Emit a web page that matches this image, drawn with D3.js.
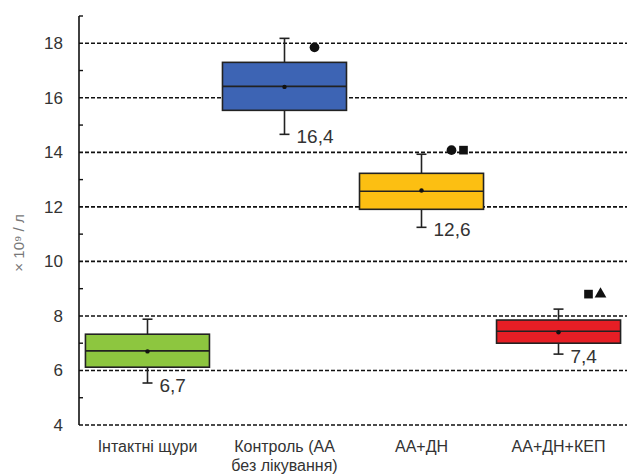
<!DOCTYPE html>
<html>
<head>
<meta charset="utf-8">
<script src="https://cdn.jsdelivr.net/npm/d3@7"></script>
<style>
  body { margin: 0; background: #fff; }
  svg { display: block; font-family: "Liberation Sans", Arial, sans-serif; }
</style>
</head>
<body>
<svg id="canvas" width="627" height="475"></svg>
<script>
"use strict";

// data
var categories = [["Інтактні щури"], ["Контроль (АА", "без лікування)"], ["АА+ДН"], ["АА+ДН+КЕП"]];
var medians = [6.72, 16.42, 12.57, 7.44];
var q1 = [6.12, 15.54, 11.91, 7.0];
var q3 = [7.33, 17.3, 13.23, 7.85];
var whiskerLow = [5.54, 14.66, 11.25, 6.6];
var whiskerHigh = [7.88, 18.18, 13.93, 8.25];
var means = [6.7, 16.4, 12.6, 7.4];
var meanLabels = ["6,7", "16,4", "12,6", "7,4"];
var boxColors = ["#8dc63f", "#3d64b4", "#fcbf12", "#e61e25"];
var markerSymbols = [[], ["circle"], ["circle", "square"], ["square", "triangle"]];
var markerValues = [null, 17.85, 14.08, 8.8];
var yTicks = [4, 6, 8, 10, 12, 14, 16, 18];
var yMinorTicks = [5, 7, 9, 11, 13, 15, 17, 19];

var svg = d3.select("#canvas");
var LEFT = 79, RIGHT = 627, TOP = 16, BOTTOM = 425;

var x = d3.scaleBand()
    .domain(d3.range(categories.length))
    .range([LEFT, RIGHT])
    .paddingInner(0.095)
    .paddingOuter(0.047);
var xc = d3.scalePoint()
    .domain(d3.range(categories.length))
    .range([LEFT, RIGHT])
    .padding(0.5);
var y = d3.scaleLinear().domain([4, 19]).range([BOTTOM, TOP]);

// grid lines
svg.append("g").selectAll("line")
    .data(yTicks)
    .enter().append("line")
    .attr("x1", LEFT).attr("x2", RIGHT)
    .attr("y1", function(d) { return y(d); })
    .attr("y2", function(d) { return y(d); })
    .attr("stroke", "#111")
    .attr("stroke-width", 1.6)
    .attr("stroke-dasharray", "4,2");

// y axis
var yAxis = svg.append("g")
    .attr("transform", "translate(" + LEFT + ",0)")
    .call(d3.axisLeft(y).tickValues(yTicks).tickSize(0).tickPadding(16));
yAxis.select(".domain").remove();
yAxis.selectAll("text")
    .attr("font-size", "17px")
    .attr("fill", "#333")
    .attr("font-family", "Liberation Sans, Arial, sans-serif");

svg.append("line")
    .attr("x1", LEFT).attr("x2", LEFT)
    .attr("y1", y(19)).attr("y2", y(4))
    .attr("stroke", "#111").attr("stroke-width", 1.6);
svg.append("g").selectAll("line")
    .data(yMinorTicks)
    .enter().append("line")
    .attr("x1", LEFT).attr("x2", LEFT + 4)
    .attr("y1", function(d) { return y(d); })
    .attr("y2", function(d) { return y(d); })
    .attr("stroke", "#111").attr("stroke-width", 1.4);

// y label
svg.append("text")
    .attr("transform", "translate(24," + 243 + ") rotate(-90)")
    .attr("text-anchor", "middle")
    .attr("font-size", "15px")
    .attr("fill", "#777")
    .text("× 10⁹ / л");

// boxes
var groups = svg.append("g").selectAll("g")
    .data(d3.range(categories.length))
    .enter().append("g");

// whiskers
groups.append("line")
    .attr("x1", function(i) { return xc(i); })
    .attr("x2", function(i) { return xc(i); })
    .attr("y1", function(i) { return y(whiskerLow[i]); })
    .attr("y2", function(i) { return y(whiskerHigh[i]); })
    .attr("stroke", "#222").attr("stroke-width", 1.6);
[whiskerLow, whiskerHigh].forEach(function(arr) {
    groups.append("line")
        .attr("x1", function(i) { return xc(i) - 5; })
        .attr("x2", function(i) { return xc(i) + 5; })
        .attr("y1", function(i) { return y(arr[i]); })
        .attr("y2", function(i) { return y(arr[i]); })
        .attr("stroke", "#222").attr("stroke-width", 1.6);
});

groups.append("rect")
    .attr("x", function(i) { return x(i); })
    .attr("width", x.bandwidth())
    .attr("y", function(i) { return y(q3[i]); })
    .attr("height", function(i) { return y(q1[i]) - y(q3[i]); })
    .attr("fill", function(i) { return boxColors[i]; })
    .attr("stroke", "#222").attr("stroke-width", 1.6);

groups.append("line")
    .attr("x1", function(i) { return x(i); })
    .attr("x2", function(i) { return x(i) + x.bandwidth(); })
    .attr("y1", function(i) { return y(medians[i]); })
    .attr("y2", function(i) { return y(medians[i]); })
    .attr("stroke", "#222").attr("stroke-width", 1.6);

groups.append("circle")
    .attr("cx", function(i) { return xc(i); })
    .attr("cy", function(i) { return y(means[i]); })
    .attr("r", 2.2)
    .attr("fill", "#111");

// mean labels
groups.append("text")
    .attr("x", function(i) { return xc(i) + 12; })
    .attr("y", function(i) { return y(whiskerLow[i]) + 9; })
    .attr("font-size", "19px")
    .attr("fill", "#333")
    .text(function(i) { return meanLabels[i]; });

// significance markers
var symbolTypes = { circle: d3.symbolCircle, square: d3.symbolSquare, triangle: d3.symbolTriangle };
groups.each(function(i) {
    var g = d3.select(this);
    markerSymbols[i].forEach(function(s, k) {
        g.append("path")
            .attr("d", d3.symbol().type(symbolTypes[s]).size(s === "triangle" ? 60 : 75)())
            .attr("transform", "translate(" + (xc(i) + 30 + k * 12) + "," + y(markerValues[i]) + ")")
            .attr("fill", "#111");
    });
});

// category labels
groups.append("text")
    .attr("text-anchor", "middle")
    .attr("font-size", "16px")
    .attr("fill", "#333")
    .each(function(i) {
        var t = d3.select(this);
        categories[i].forEach(function(line, k) {
            t.append("tspan")
                .attr("x", xc(i))
                .attr("y", 452 + k * 18.5)
                .text(line);
        });
    });
</script>
</body>
</html>
